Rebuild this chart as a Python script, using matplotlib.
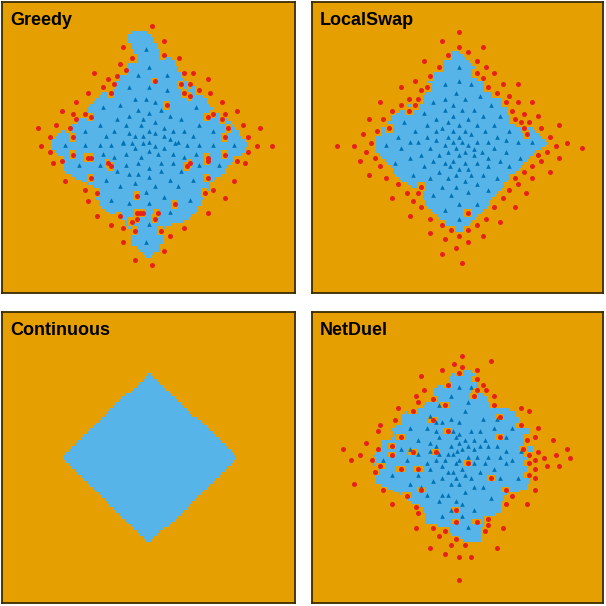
import numpy as np
import matplotlib
matplotlib.use('Agg')
import matplotlib.pyplot as plt
from matplotlib.path import Path
from matplotlib.colors import to_rgb

ORANGE = '#E69F00'
SKY = '#56B4E9'
BLUE = '#0072B2'
RED = '#E6211B'

titles = ['Greedy', 'LocalSwap', 'Continuous', 'NetDuel']

# ---------------- Greedy ----------------
greedy_region = [(130,31),(149,31),(153,37),(157,44),(160,52),(162,60),(170,58),(176,63),(178,70),
    (182,78),(186,80),(195,88),(203,96),(210,104),(216,110),(222,116),(230,123),(237,130),(243,137),
    (249,144),(247,149),(243,154),(235,158),(230,165),(223,173),(217,178),(210,185),(211,190),(205,196),
    (201,204),(196,212),(190,220),(183,222),(173,224),(165,228),(163,240),(160,250),(150,259),(144,256),
    (140,250),(130,245),(130,230),(125,222),(118,215),(108,212),(100,205),(96,195),(92,185),(86,183),
    (78,180),(74,177),(65,170),(63,160),(57,153),(51,147),(52,140),(58,134),(64,130),(74,125),(80,117),
    (86,110),(90,104),(97,98),(104,93),(112,88),(116,82),(122,74),(126,66),(132,60),(136,56),(133,50),
    (130,44),(129,38)]
greedy_triangles = [(146.3,49.3),(149.3,66.7),(137.7,75.3),(166.7,75.3),(129,87),(149.3,87),(166.7,90),
    (134.7,98.7),(146.3,98.7),(155,101.7),(120,104.7),(102.7,107.3),(137.7,110),(161,110),(196,107.3),
    (149.3,113),(129,116),(169.7,116),(117.3,119),(143.3,119),(181.3,119),(99.7,124.7),(126,124.7),
    (140.7,124.7),(155,121.7),(199,124.7),(85,130.7),(114.3,130.7),(163.7,127.7),(172.7,130.7),
    (184.3,130.7),(213.3,130.7),(129,133.3),(149.3,130.7),(105.7,136.3),(134.7,136.3),(143.3,136.3),
    (155,133.3),(163.7,136.3),(193,136.3),(169.7,139.3),(178.3,142),(123,142),(149.3,142),
    (64.7,145),(85,145),(99.7,145),(111.3,145),(123,142.7),(131.7,142.7),(143.3,142.7),(155,145.5),
    (175.3,142.7),(187,145),(199,145),(213.3,145),(233.7,145),(134.7,148),(163.7,148),(149.3,151),
    (102.7,153.7),(126,153.7),(158,153.7),(172.7,153.7),(196,153.7),(114.3,156.7),(140.7,156.7),
    (184.3,156.7),(137.7,162.7),(161,162.7),(172.7,162.7),(79.3,165.3),(99.7,165.3),(126,165.3),
    (149.3,168.3),(199,165.3),(219.3,165.3),(117.3,171.3),(129,174),(137.7,174),(161,171.3),
    (181.3,171.3),(149.3,177),(105.7,180),(169.7,180),(193,180),(134.7,183),(120,185.7),(155,185.7),
    (178.3,185.7),(146.3,191.7),(163.7,197.3),(111.3,200.3),(129,203.3),(149.3,203.3),(190,200.3),
    (169.7,212),(149.3,224.3),(146.3,241.7)]
greedy_dots = [(152.3,26),(163.7,40.7),(123,46.7),(163.7,55.3),(132,58.3),(178.7,58.3),(120,64),(126,70),
    (93.7,72.7),(184,72.7),(193,72.7),(117,75.7),(108.3,78.7),(207.7,78.7),(155,81.3),(114.3,84.3),
    (181.3,84.3),(190,84.3),(102.7,87.3),(199,90.3),(88,93.3),(111.3,93.3),(184,93.3),(210.3,93.3),
    (190,96),(76,102),(222.3,102),(166.7,105),(61.7,110.7),(236.7,110.7),(73,113.7),(85,113.7),
    (213.3,113.7),(225,113.7),(91,116.7),(207.7,116.7),(76,119.3),(222.3,119.3),(56,125.3),
    (242.7,125.3),(38.3,128.3),(70,128.3),(228,128.3),(260,128.3),(50,137),(73.3,137),(225,137),
    (248.3,137),(41,146),(257,146),(271.7,146),(50,151.7),(73.3,154.7),(248.3,151.7),(225,154.7),
    (88,157.7),(91,157.7),(207.7,157.7),(207.7,160.7),(61.7,160.7),(236.7,160.7),(52.7,163.3),
    (245.3,163.3),(108.3,163.3),(111.3,166.3),(190,163.3),(187,166.3),(91,178),(207.7,178),
    (64.7,180.7),(233.7,180.7),(85,189.7),(213.3,189.7),(96.7,192.7),(204.7,192.7),(137.3,195.7),
    (225,198.3),(88,201.3),(175.3,204.3),(137.3,213),(140.3,213),(143.3,213),(158,213),(207.7,213),
    (96.7,216),(120,216),(137.3,219),(155,219),(131.7,221.7),(111.3,224.7),(123,227.7),(184.3,227.7),
    (134.7,230.7),(161,230.7),(169.7,236.3),(123,242.3),(163.7,251),(134.7,259.7),(152,265)]

# ---------------- LocalSwap ----------------
localswap_region = [(452,53),(458,50),(464,55),(474,67),(487,85),(503,101),(517,115),(530,127),(543,139),
    (548,145),(543,147),(533,155),(520,168),(507,182),(493,198),(483,212),(470,225),(461,233),(457,233),
    (450,227),(437,217),(423,200),(410,187),(397,175),(383,158),(372,146),(374,142),(377,137),(387,123),
    (395,113),(407,107),(420,95),(430,78),(443,63)]
localswap_triangles = [(459.3,66.7),(459.3,81),(444.7,84),(471,84),(456.3,92.7),(479.7,95.7),(444.7,98.7),
    (465,98.7),(433,101.7),(453.3,104.7),(491.3,104.7),(444.7,110.3),(462,110.3),(473.7,110.3),
    (424.3,113.3),(453.3,116.3),(482.7,116.3),(500,116.3),(436,119.3),(468,119.3),(403.7,122),
    (447.7,122),(427,125),(459.3,125),(476.7,125),(494.3,125),(441.7,128),(415.3,131),(436,131),
    (453.3,131),(465,131),(485.3,131),(508.7,131),(471,133.7),(398,136.7),(427,136.7),(447.7,136.7),
    (459.3,136.7),(497,136.7),(409.7,142.3),(418.3,142.3),(436,139.7),(453.3,142.3),(462,142.3),
    (476.7,142.3),(488.3,142.3),(506,139.7),(517.7,142.3),(532.3,142.3),(386.3,145.3),(444.7,145.3),
    (468,145.3),(400.7,148.3),(430,148.3),(456.3,148.3),(494.3,148.3),(473.7,149),(447.7,151.7),
    (465,151.7),(482.3,151.7),(506,151.7),(421.3,154.7),(439,154.7),(459.3,154.7),(473.7,154.7),
    (488.3,157.7),(409.7,157.7),(520.3,157.7),(433,160.7),(453.3,160.7),(500,160.7),(395,163.3),
    (444.7,163.3),(465,163.3),(476.7,163.3),(424.3,166.3),(450.3,166.3),(488.3,166.3),(508.7,166.3),
    (459.3,169.3),(468,169.3),(439,172),(412.7,175),(456.3,175),(471,175),(482.7,175),(430,178),
    (447.7,178),(497,178),(465,180.7),(476.7,183.7),(441.7,186.7),(456.3,186.7),(488.3,189.7),
    (468,192.3),(433,195.3),(450.7,195.3),(459.3,204),(476.7,204),(444.7,210),(459.3,218.7)]
localswap_dots = [(459.3,31.7),(442,40.7),(459.3,46.7),(482.7,46.7),(468,52.3),(447.7,55.3),(424.3,61),
    (476.7,61),(439,67),(485.7,67),(476.7,72.7),(494.3,72.7),(430,75.7),(482.7,78.3),(415.3,81.3),
    (503,84.3),(517.7,84.3),(400.7,87.3),(427,87.3),(488.3,87.3),(421.3,90.3),(497.3,93),(509,96),
    (409.3,99),(418.3,99),(380.3,102),(506,102),(517.7,102),(532.3,102),(400.7,104.7),(415.3,104.7),
    (392,110.7),(409.3,110.7),(511.7,110.7),(523.7,113.7),(538,116.3),(368.7,119.3),(383.3,119.3),
    (514.7,119.3),(520.7,122.3),(529.3,122.3),(558.7,125),(389,128),(523.7,128),(541,128),(377.3,131),
    (362.7,134),(526.7,134),(549.7,136.7),(371.3,142.7),(567.3,142.7),(336.7,145.7),(354,145.7),
    (555.7,145.7),(581.7,148.3),(365.7,151.7),(547,151.7),(374.7,157.7),(558.7,157.7),(538.3,154.7),
    (360,160.7),(541,160.7),(380.3,166.3),(532.3,166.3),(523.7,172.3),(549.7,172.3),(368.7,175),
    (386.3,178),(514.7,178),(532.3,178),(398,183.7),(517.7,183.7),(421.3,186.7),(509,189.7),
    (406.7,192.7),(418.3,192.7),(526.3,192.7),(392,198.3),(503,198.3),(412.7,201.3),(421.3,207),
    (494.3,207),(514.7,207),(468,213),(409.7,216),(430,218.7),(485.7,218.7),(500,221.7),(442,224.7),
    (476.7,224.7),(450.7,230.3),(468,230.3),(430,233.3),(459.3,236.3),(482.7,236.3),(444.7,239.3),
    (468,242.3),(456.3,248),(442,254),(462,262.7)]

# ---------------- Continuous ----------------
continuous_region = [(149.5,372.5),(238.5,458),(149.5,543.5),(63,458)]
continuous_triangles = []
continuous_dots = []

# ---------------- NetDuel ----------------
netduel_region = [(450,375),(459,373),(466,371),(472,371),(476,375),(479,384),(483,392),(487,401),(497,408),
    (507,408),(514,412),(518,417),(520,427),(530,428),(530,434),(523,436),(525,445),(533,447),(533,454),
    (527,457),(527,470),(531,472),(530,482),(527,488),(515,493),(505,495),(503,502),(502,513),(493,515),
    (484,520),(482,532),(480,543),(467,543),(457,537),(447,532),(437,527),(424,524),(425,513),(420,507),
    (410,502),(407,497),(389,489),(377,482),(375,470),(373,455),(382,450),(383,440),(393,438),(395,432),
    (388,429),(403,425),(403,413),(420,408),(427,403),(435,400),(435,387),(450,383)]
netduel_triangles = [(459.3,387.3),(471,387.3),(450.7,396),(468,401.7),(439,404.7),(465,410.7),(430,416.3),
    (436,422),(441.7,422),(450.7,419.3),(459.3,422),(482.7,419.3),(497.3,419.3),(409.7,428),(427,428),
    (436,431),(453.3,431),(471,431),(479.7,431),(494.3,428),(512,428),(459.3,434),(438.7,436.7),
    (456.3,436.7),(506,436.7),(418.3,439.7),(430.3,442.7),(465,439.7),(473.7,439.7),(485.3,439.7),
    (436,445.7),(450.7,445.7),(459.3,442.7),(468,445.7),(479.7,445.7),(488.3,445.7),(497.3,445.7),
    (401,448.7),(409.7,448.7),(430,451.3),(456.7,451.3),(462,448.7),(473.7,448.7),(506,451.3),
    (521,451.3),(418.3,454.3),(439,454.3),(447.7,454.3),(453.3,454.3),(468,457.3),(477,457.3),
    (488.3,457.3),(500.3,457.3),(383.3,460),(406.7,460),(436,460),(444.7,460),(459.3,460),(512,460),
    (427,463),(442,466),(456.3,463),(473.7,463),(485.3,463),(506,463),(430,469),(462,469),(494.3,469),
    (447.7,472.3),(453.3,472.3),(479.7,472.3),(392,475),(418.3,475),(465,475),(442,478),(456.3,478),
    (471,478),(500.3,478),(517.7,478),(433,481),(409.7,484),(450.7,484),(459.3,484),(421.3,486.7),
    (474,486.7),(482.7,486.7),(465,492.3),(427,495.3),(441.7,495.3),(447.7,495.3),(491.3,498.3),
    (439,501),(456.3,501),(462.3,504),(450.7,509.7),(474,509.7),(441.7,515.7),(462.3,515.7),(468,527)]
netduel_dots = [(462.3,355.7),(491.3,361.3),(453.7,364.3),(462.3,367.3),(442,370),(476.7,370),(459.3,373),
    (421.3,376),(476.7,378.7),(447.7,384.7),(482.7,384.7),(424.3,390.3),(476.7,390.3),(485.7,390.3),
    (415.7,396.3),(474,396.3),(494.3,396.3),(433.3,399.3),(418.3,402),(445,405),(494.3,405),(398,408),
    (520.7,408),(412.7,411),(529.3,411),(500.3,416.7),(395,419.7),(433.3,419.7),(380.3,425.3),
    (520.7,425.3),(538.3,428.3),(377.7,431.3),(447.7,431.3),(401,437),(500.3,437),(535.3,437),
    (526.7,440),(552.7,440),(365.7,443),(392,446),(342.7,448.7),(377.7,448.7),(523.3,448.7),
    (567.3,448.7),(412.7,451.7),(436,451.7),(538.3,451.7),(360,454.7),(392,454.7),(529.3,454.7),
    (555.7,454.7),(544,457.7),(570.3,457.7),(351.3,460.3),(371.7,460.3),(535.3,460.3),(468,463.3),
    (529.3,463.3),(380.3,466.3),(547,466.3),(558.7,466.3),(401,469),(418.3,469),(535.3,469),
    (374.7,472.3),(529.3,475),(535.3,478),(491.3,478),(354,484),(383.3,489.7),(421.3,489.7),
    (506,489.7),(535.3,489.7),(407,495.7),(511.7,495.7),(392,504.3),(506,504.3),(526.7,504.3),
    (415.7,507.3),(456.3,510),(418.3,513),(488.3,519),(456.3,521.7),(476.7,521.7),(488.3,524.7),
    (415.7,527.7),(433,527.7),(503,527.7),(444.7,530.7),(485.3,530.7),(439,536.3),(456.3,539.3),
    (450.7,545),(465,545),(430,548),(497.3,548),(444.7,553.7),(459.3,556.7),(471,556.7),(459.3,580.3)]

regions = [greedy_region, localswap_region, continuous_region, netduel_region]
triangles = [greedy_triangles, localswap_triangles, continuous_triangles, netduel_triangles]
dots = [greedy_dots, localswap_dots, continuous_dots, netduel_dots]

# panel windows (x0, x1, y0, y1) in the shared grid coordinate system
windows = [(2.5, 295, 2, 293), (312, 603, 2, 293), (2.5, 295, 312, 603), (312, 603, 312, 603)]

W = H = 606
fig = plt.figure(figsize=(W / 100, H / 100), dpi=100)
fig.patch.set_facecolor('white')
n = 100
halo = 3.6
sky = np.array(to_rgb(SKY))
orange = np.array(to_rgb(ORANGE))

for title, reg, tri, dts, (x0, x1, y0, y1) in zip(titles, regions, triangles, dots, windows):
    ax = fig.add_axes([x0 / W, 1 - y1 / H, (x1 - x0) / W, (y1 - y0) / H])
    ax.set_facecolor(ORANGE)
    xs = x0 + (np.arange(n) + 0.5) * (x1 - x0) / n
    ys = y0 + (np.arange(n) + 0.5) * (y1 - y0) / n
    X, Y = np.meshgrid(xs, ys)
    inside = Path(reg).contains_points(np.column_stack([X.ravel(), Y.ravel()])).reshape(n, n)
    if dts:
        d = np.array(dts)
        near = ((np.abs(X[..., None] - d[:, 0]) <= halo) &
                (np.abs(Y[..., None] - d[:, 1]) <= halo)).any(-1)
        inside &= ~near
    img = np.where(inside[..., None], sky, orange)
    ax.imshow(img, extent=(x0, x1, y1, y0), interpolation='nearest', aspect='auto', zorder=1)
    if tri:
        t = np.array(tri)
        ax.scatter(t[:, 0], t[:, 1], marker='^', s=11, color=BLUE, linewidths=0, zorder=3)
    if dts:
        d = np.array(dts)
        ax.scatter(d[:, 0], d[:, 1], marker='o', s=13, color=RED, linewidths=0, zorder=4)
    ax.set_xlim(x0, x1)
    ax.set_ylim(y1, y0)
    ax.set_xticks([])
    ax.set_yticks([])
    for sp in ax.spines.values():
        sp.set_color('#3a2c00')
        sp.set_linewidth(1.3)
    ax.text(0.028, 0.922, title, transform=ax.transAxes, fontsize=13, fontweight='bold',
            family=['Liberation Sans', 'DejaVu Sans'], color='black', va='baseline', ha='left', zorder=5)

fig.savefig('out.png', dpi=100, facecolor='white')
